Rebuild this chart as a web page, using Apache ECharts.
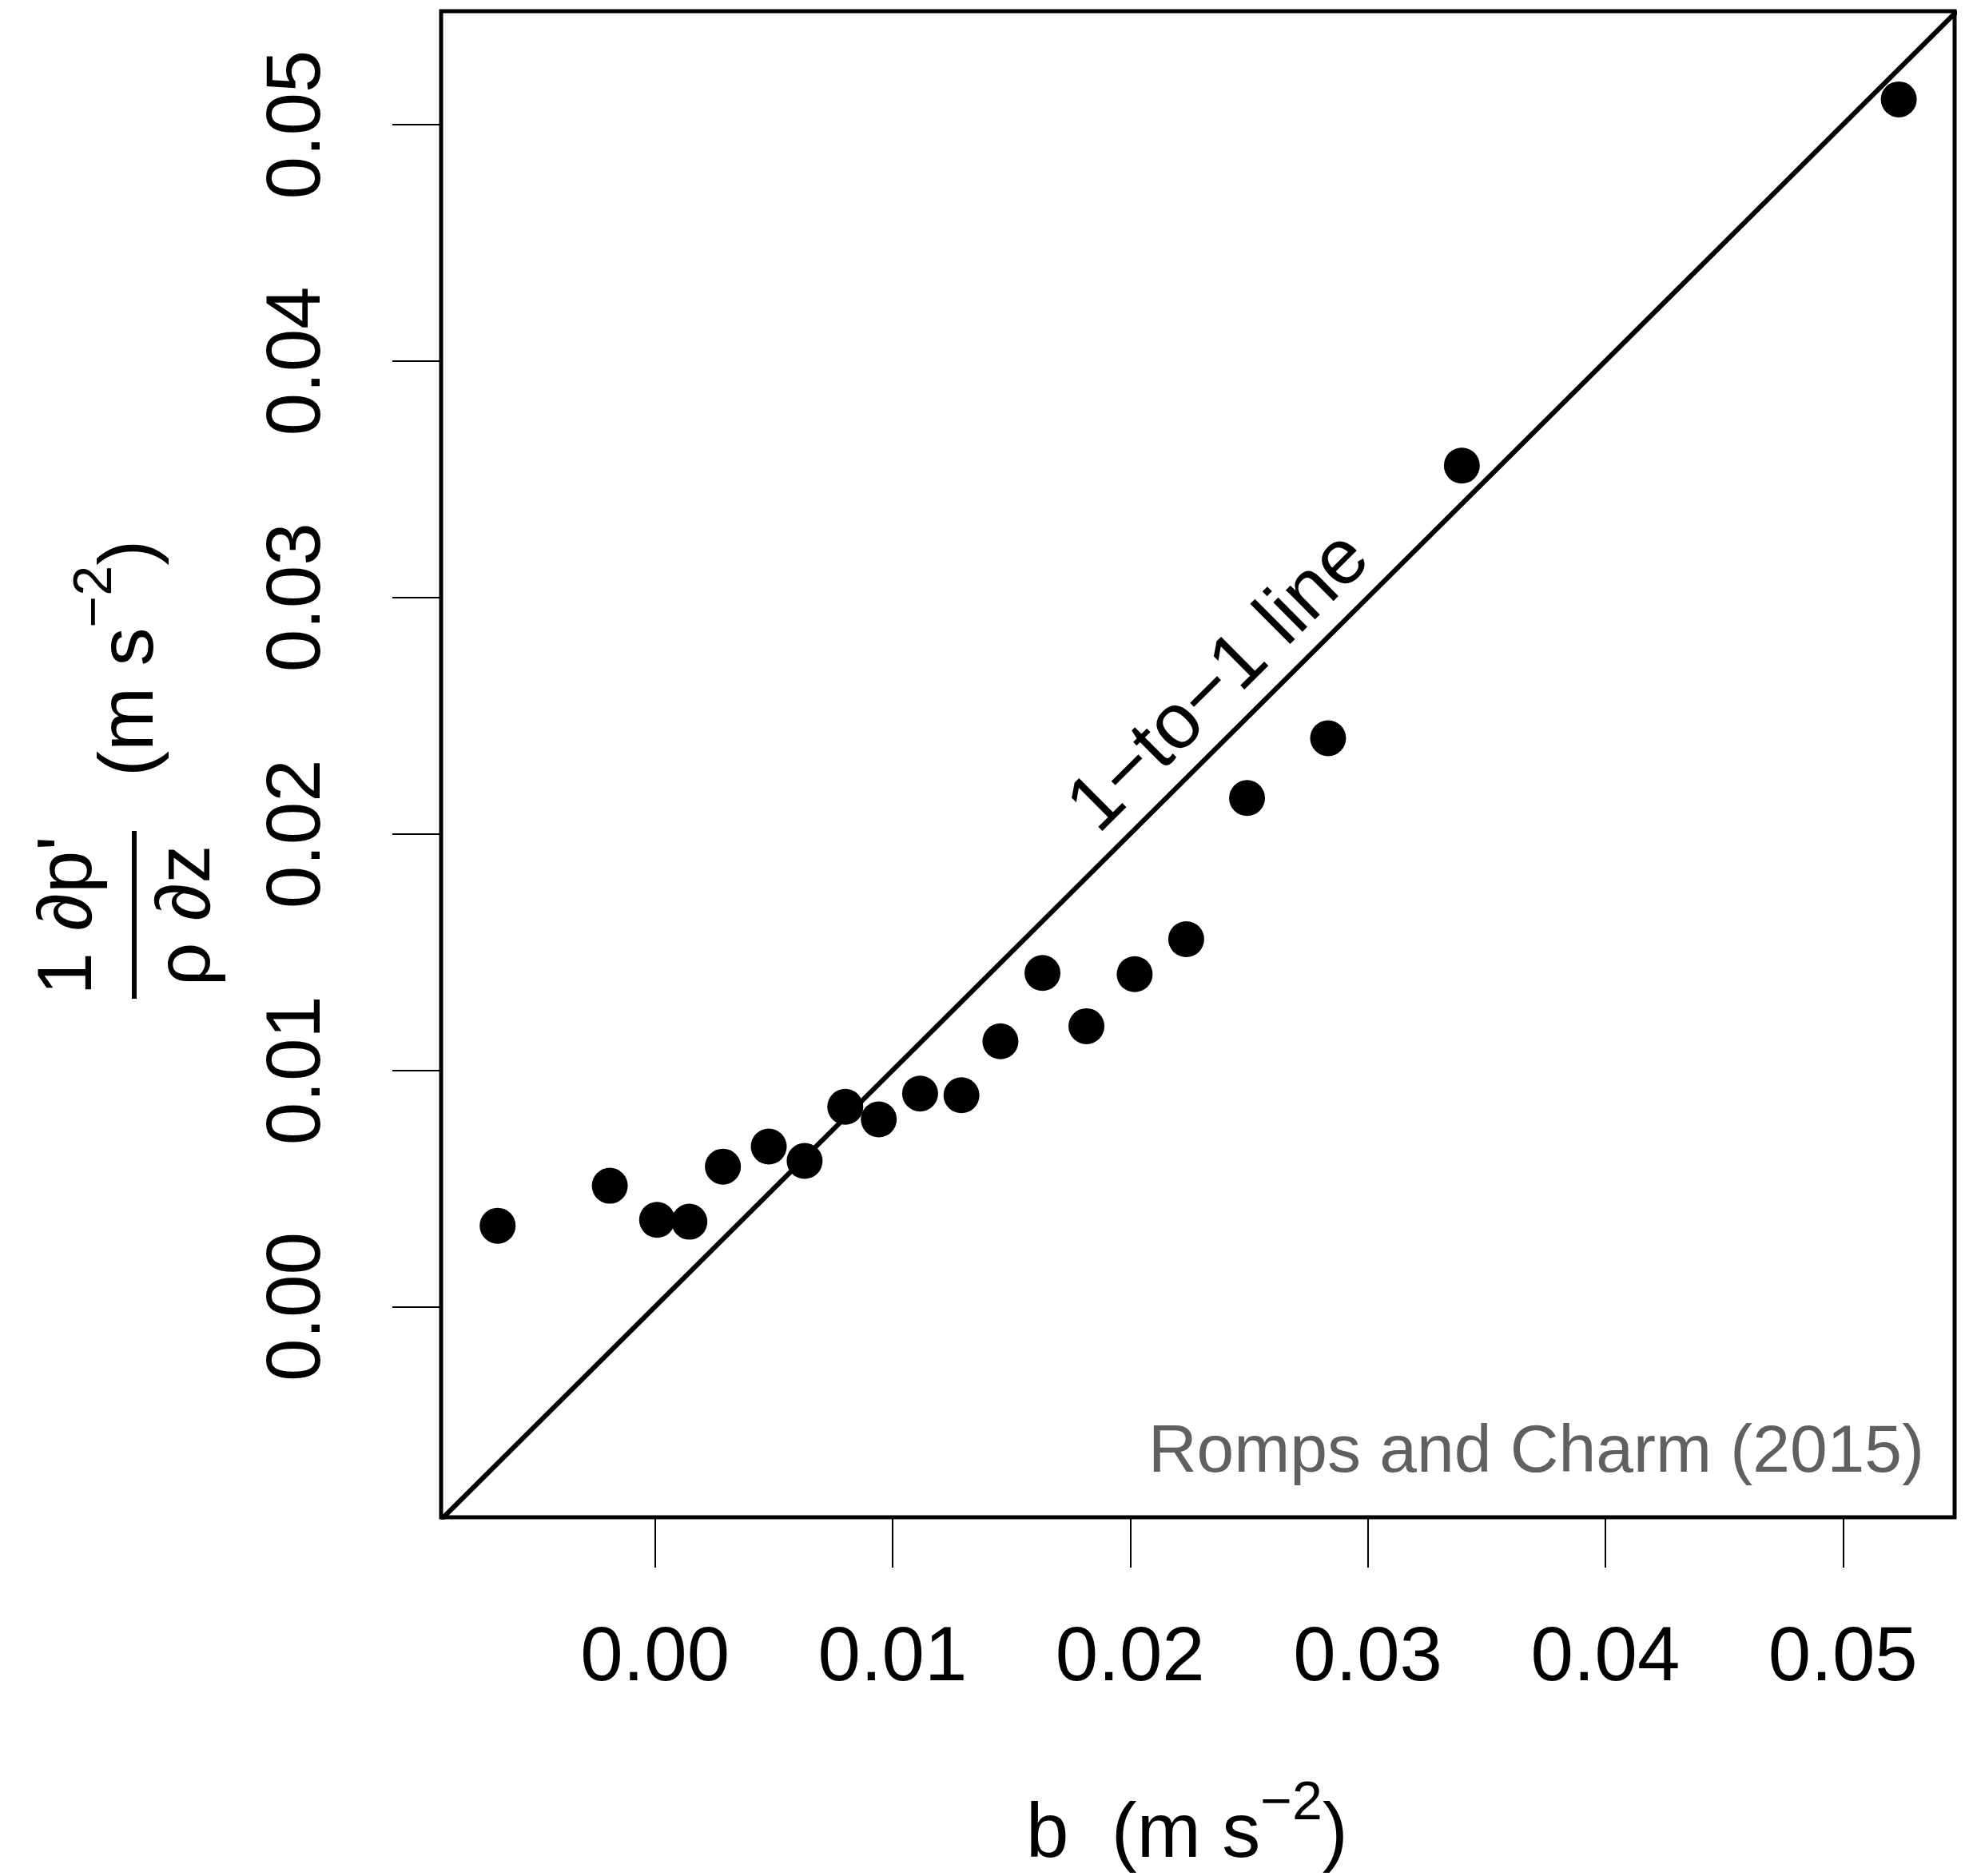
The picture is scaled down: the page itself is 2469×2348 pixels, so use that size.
<!DOCTYPE html>
<html>
<head>
<meta charset="utf-8">
<script src="https://cdn.jsdelivr.net/npm/echarts@6/dist/echarts.min.js"></script>
<style>
  html, body { margin: 0; padding: 0; background: #fff; }
  #chart { width: 2469px; height: 2348px; }
</style>
</head>
<body>
<div id="chart"></div>
<script>
// buoyancy b (m s^-2) and (1/rho) dp'/dz (m s^-2)
var buoyancy = [
  -0.00662, -0.00190, 0.00009, 0.00145, 0.00286, 0.00479, 0.00630,
  0.00801, 0.00942, 0.01116, 0.01290, 0.01454, 0.01631, 0.01816,
  0.02019, 0.02236, 0.02492, 0.02833, 0.03396, 0.05235
];
var pressureGrad = [
  0.00343, 0.00512, 0.00368, 0.00360, 0.00593, 0.00678, 0.00617,
  0.00846, 0.00793, 0.00902, 0.00895, 0.01123, 0.01412, 0.01187,
  0.01407, 0.01555, 0.02152, 0.02405, 0.03558, 0.05107
];
var tickValues = [0, 0.01, 0.02, 0.03, 0.04, 0.05];
var tickLabels = ["0.00", "0.01", "0.02", "0.03", "0.04", "0.05"];
var xRange = [-0.009, 0.0547];
var yRange = [-0.0089, 0.0548];
var oneToOne = [-0.009, 0.0548];

var FONT = '"Liberation Sans", Arial, Helvetica, sans-serif';
var measureCtx = document.createElement("canvas").getContext("2d");
function textW(s, size) {
  measureCtx.font = size + "px " + FONT;
  return measureCtx.measureText(s).width;
}
function tickLabel(v) {
  for (var i = 0; i < tickValues.length; i++) {
    if (Math.abs(tickValues[i] - v) < 1e-9) return tickLabels[i];
  }
  return "";
}
function txt(s, x, y, size, opts) {
  opts = opts || {};
  return {
    type: "text",
    x: x,
    y: y,
    rotation: opts.rotation || 0,
    silent: true,
    style: {
      text: s,
      fontSize: size,
      fontFamily: FONT,
      fill: opts.color || "#000",
      align: opts.align || "left",
      textAlign: opts.align || "left",
      verticalAlign: "middle",
      textVerticalAlign: "middle"
    }
  };
}

var chart = echarts.init(document.getElementById("chart"));

// y axis title, rotated 90 degrees
var R = Math.PI / 2;
var unitsY0 = 972;
var unitsY1 = unitsY0 - textW("(m s", 96);
var unitsY2 = unitsY1 - textW("\u22122", 68);
// x axis title
var bx0 = 1284;
var bx1 = bx0 + textW("b  (m s", 96);
var bx2 = bx1 + textW("\u22122", 68);

var graphics = [
  txt("1 \u2202p'", 88, 1146, 96, { rotation: R, align: "center" }),
  {
    type: "line",
    silent: true,
    shape: { x1: 168, y1: 1040, x2: 168, y2: 1250 },
    style: { stroke: "#000", lineWidth: 6 }
  },
  txt("\u03c1 \u2202z", 236, 1146, 96, { rotation: R, align: "center" }),
  txt("(m s", 165, unitsY0, 96, { rotation: R }),
  txt("\u22122", 120, unitsY1, 68, { rotation: R }),
  txt(")", 165, unitsY2, 96, { rotation: R }),
  txt("b  (m s", bx0, 2298, 96),
  txt("\u22122", bx1, 2258, 68),
  txt(")", bx2, 2298, 96),
  txt("1\u2212to\u22121 line", 1527, 855, 98, { rotation: Math.atan2(1885, 1894), align: "center" }),
  txt("Romps and Charm (2015)", 2408, 1819, 84, { align: "right", color: "#606060" })
];

var pts = buoyancy.map(function (b, i) { return [b, pressureGrad[i]]; });
var diag = oneToOne.map(function (v) { return [v, v]; });

chart.setOption({
  animation: false,
  backgroundColor: "#fff",
  grid: {
    left: 552,
    right: 23,
    top: 14,
    bottom: 449,
    show: true,
    borderColor: "#000",
    borderWidth: 5,
    backgroundColor: "transparent"
  },
  xAxis: {
    type: "value",
    min: xRange[0],
    max: xRange[1],
    axisLine: { show: false, onZero: false },
    splitLine: { show: false },
    axisTick: {
      show: true,
      length: 63,
      customValues: tickValues,
      lineStyle: { color: "#000", width: 2 }
    },
    axisLabel: {
      customValues: tickValues,
      formatter: tickLabel,
      fontSize: 96,
      fontFamily: FONT,
      color: "#000",
      margin: 130
    }
  },
  yAxis: {
    type: "value",
    min: yRange[0],
    max: yRange[1],
    axisLine: { show: false, onZero: false },
    splitLine: { show: false },
    axisTick: {
      show: true,
      length: 61,
      customValues: tickValues,
      lineStyle: { color: "#000", width: 2 }
    },
    axisLabel: {
      customValues: tickValues,
      formatter: tickLabel,
      rotate: 90,
      fontSize: 96,
      fontFamily: FONT,
      color: "#000",
      margin: 130
    }
  },
  series: [
    {
      type: "line",
      data: diag,
      symbol: "none",
      clip: true,
      lineStyle: { color: "#000", width: 6 },
      silent: true
    },
    {
      type: "scatter",
      data: pts,
      symbol: "circle",
      symbolSize: 45,
      itemStyle: { color: "#000", opacity: 1 },
      silent: true
    }
  ],
  graphic: graphics
});
</script>
</body>
</html>
